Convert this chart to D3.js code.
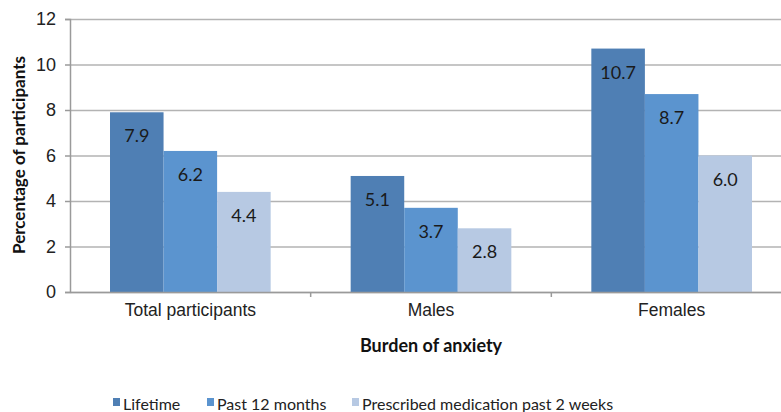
<!DOCTYPE html>
<html lang="en">
<head>
    <meta charset="UTF-8">
    <title>Burden of anxiety</title>
    <script src="https://d3js.org/d3.v7.min.js"></script>
    <style>
        body { margin: 0; background: #fff; }
        svg { font-family: Lato, "Open Sans", sans-serif; }
        .grid line { stroke: #b3b3b3; stroke-width: 1.5px; }
        .y-axis .tick text { font-size: 18px; fill: #222; }
        .x-axis .tick text { font-size: 17.5px; fill: #222; }
        .axis-title { font-weight: bold; fill: #111; }
        .bar-label { font-size: 18px; fill: #1a1a1a; text-anchor: middle; }
        .legend text { font-size: 16px; fill: #222; }
    </style>
</head>
<body>
    <svg id="chart" width="781" height="412"></svg>
    <script>
        // Data
        var categories = ["Total participants", "Males", "Females"];
        var seriesNames = ["Lifetime", "Past 12 months", "Prescribed medication past 2 weeks"];
        var lifetime = [7.9, 5.1, 10.7];
        var past12 = [6.2, 3.7, 8.7];
        var prescribed = [4.4, 2.8, 6.0];
        var yTicks = [0, 2, 4, 6, 8, 10, 12];
        var colors = ["#4f7fb4", "#5b94cf", "#b7c9e3"];

        var seriesValues = [lifetime, past12, prescribed];

        var margin = {top: 19, right: -11, bottom: 120, left: 70},
            width = 781 - margin.left - margin.right,
            height = 412 - margin.top - margin.bottom;

        var svg = d3.select("#chart")
            .append("g")
            .attr("transform", "translate(" + margin.left + "," + margin.top + ")");

        var x0 = d3.scaleBand().domain(categories).range([0, width]).paddingInner(0).paddingOuter(0);
        var x1 = d3.scaleBand().domain(seriesNames)
            .range([40, x0.bandwidth() - 40]).padding(0);
        var y = d3.scaleLinear().domain([0, 12]).range([height, 0]);

        // Gridlines
        svg.append("g")
            .attr("class", "grid")
            .call(d3.axisLeft(y).tickValues(yTicks).tickSize(-width).tickFormat(""))
            .call(function(g) { g.select(".domain").remove(); });

        // Y axis
        svg.append("g")
            .attr("class", "y-axis")
            .call(d3.axisLeft(y).tickValues(yTicks).tickSize(5).tickPadding(9))
            .call(function(g) {
                g.select(".domain").attr("stroke", "#9a9a9a").attr("stroke-width", 1.5);
                g.selectAll(".tick line").attr("stroke", "#9a9a9a").attr("stroke-width", 1.5);
            });

        // Bars
        var groups = svg.selectAll(".group")
            .data(categories)
            .enter().append("g")
            .attr("class", "group")
            .attr("transform", function(d) { return "translate(" + x0(d) + ",0)"; });

        groups.selectAll("rect")
            .data(function(d, i) {
                return seriesNames.map(function(s, j) {
                    return {series: s, value: seriesValues[j][i], color: colors[j]};
                });
            })
            .enter().append("rect")
            .attr("x", function(d) { return x1(d.series); })
            .attr("y", function(d) { return y(d.value); })
            .attr("width", x1.bandwidth())
            .attr("height", function(d) { return height - y(d.value); })
            .attr("fill", function(d) { return d.color; });

        groups.selectAll(".bar-label")
            .data(function(d, i) {
                return seriesNames.map(function(s, j) {
                    return {series: s, value: seriesValues[j][i]};
                });
            })
            .enter().append("text")
            .attr("class", "bar-label")
            .attr("x", function(d) { return x1(d.series) + x1.bandwidth() / 2; })
            .attr("y", function(d) { return y(d.value) + 30; })
            .text(function(d) { return d.value.toFixed(1); });

        // X axis
        var xAxis = svg.append("g")
            .attr("class", "x-axis")
            .attr("transform", "translate(0," + height + ")")
            .call(d3.axisBottom(x0).tickSize(0).tickPadding(12));
        xAxis.select(".domain").attr("stroke", "#9a9a9a").attr("stroke-width", 1.5);

        // Category separators on the x axis
        svg.append("g")
            .selectAll("line")
            .data(categories.slice(1))
            .enter().append("line")
            .attr("x1", function(d) { return x0(d); })
            .attr("x2", function(d) { return x0(d); })
            .attr("y1", height)
            .attr("y2", height + 5)
            .attr("stroke", "#9a9a9a")
            .attr("stroke-width", 1.5);

        // Axis titles
        svg.append("text")
            .attr("class", "axis-title")
            .attr("x", 361)
            .attr("y", height + 60)
            .attr("text-anchor", "middle")
            .style("font-size", "18px")
            .text("Burden of anxiety");

        svg.append("text")
            .attr("class", "axis-title")
            .attr("transform", "rotate(-90)")
            .attr("x", -136)
            .attr("y", -45)
            .attr("text-anchor", "middle")
            .style("font-size", "17px")
            .text("Percentage of participants");

        // Legend
        var legendX = [113, 207, 352];
        var legend = d3.select("#chart").append("g").attr("class", "legend");
        var items = legend.selectAll("g")
            .data(seriesNames)
            .enter().append("g")
            .attr("transform", function(d, i) { return "translate(" + legendX[i] + ",396)"; });
        items.append("rect")
            .attr("width", 7)
            .attr("height", 8)
            .attr("y", 2)
            .attr("fill", function(d, i) { return colors[i]; });
        items.append("text")
            .attr("x", 10)
            .attr("y", 14)
            .text(function(d) { return d; });
    </script>
</body>
</html>
